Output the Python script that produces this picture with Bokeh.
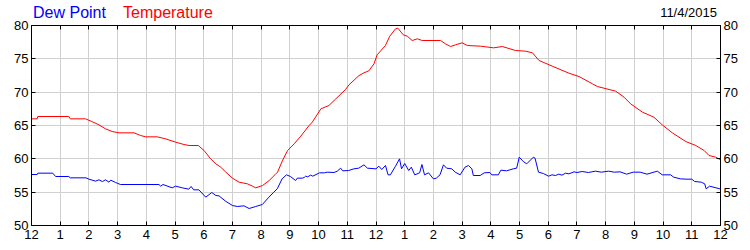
from bokeh.plotting import figure
from bokeh.models import FixedTicker, LinearAxis, Range1d, Div
from bokeh.layouts import column
from bokeh.embed import file_html
from bokeh.resources import INLINE

# ---- data (hours since midnight, degrees F) ----
temp_hours = [0.0, 0.2, 0.22, 1.3, 1.35, 1.88, 2.1, 2.35, 2.58, 2.81, 3.05, 3.57, 3.8, 3.98,
              4.38, 4.67, 5.02, 5.31, 5.49, 5.81, 6.01, 6.24, 6.42, 6.59, 6.77, 7.0, 7.23,
              7.52, 7.7, 7.81, 8.05, 8.28, 8.49, 8.57, 8.75, 8.92, 9.15, 9.38, 9.67, 9.78,
              10.08, 10.36, 10.6, 10.94, 11.06, 11.41, 11.58, 11.75, 11.93, 12.04, 12.33,
              12.48, 12.68, 12.76, 12.95, 13.09, 13.26, 13.44, 13.61, 14.25, 14.42, 14.6,
              14.77, 15.0, 15.18, 15.64, 16.1, 16.4, 16.86, 17.21, 17.45, 17.68, 18.14,
              18.72, 19.07, 19.54, 19.71, 20.35, 20.64, 20.87, 21.28, 21.68, 21.97, 22.32,
              22.79, 23.14, 23.43, 23.6, 23.83, 23.98]
temp_values = [66.0, 66.0, 66.35, 66.35, 66.0, 66.0, 65.6, 65.1, 64.5, 64.1, 63.9, 63.9, 63.5,
               63.3, 63.3, 63.0, 62.5, 62.15, 62.0, 62.0, 61.25, 60.0, 59.25, 58.75, 58.0,
               57.1, 56.5, 56.25, 55.9, 55.65, 56.0, 56.75, 57.65, 58.0, 59.8, 61.25, 62.25,
               63.4, 65.0, 65.5, 67.5, 68.0, 69.0, 70.4, 71.1, 72.5, 72.9, 73.2, 74.25, 75.6,
               77.0, 78.4, 79.5, 79.6, 78.6, 78.4, 77.75, 78.0, 77.75, 77.75, 77.25, 76.85,
               77.1, 77.4, 77.0, 76.9, 76.65, 76.85, 76.25, 76.15, 75.9, 74.75, 73.9, 72.85,
               72.35, 71.25, 70.85, 70.15, 69.25, 68.25, 67.0, 66.25, 65.1, 63.9, 62.6, 62.0,
               61.25, 60.5, 60.25, 59.9]

dew_hours = [0.0, 0.2, 0.22, 0.74, 0.84, 1.3, 1.35, 1.9, 2.0, 2.23, 2.35, 2.47, 2.58, 2.7,
             2.76, 2.93, 3.1, 4.44, 4.5, 4.58, 4.9, 5.02, 5.25, 5.48, 5.56, 5.65, 5.83, 6.07,
             6.28, 6.42, 6.53, 6.76, 7.0, 7.17, 7.4, 7.58, 7.81, 8.04, 8.27, 8.44, 8.56, 8.73,
             8.88, 9.02, 9.2, 9.26, 9.43, 9.5, 9.55, 9.62, 9.72, 9.8, 10.03, 10.2, 10.3,
             10.54, 10.65, 10.77, 10.84, 11.05, 11.23, 11.4, 11.58, 11.7, 12.0, 12.1, 12.2,
             12.33, 12.42, 12.5, 12.68, 12.82, 12.89, 13.0, 13.14, 13.23, 13.35, 13.52, 13.6,
             13.69, 13.83, 14.0, 14.1, 14.23, 14.35, 14.46, 14.64, 14.76, 14.93, 15.1, 15.22,
             15.34, 15.39, 15.63, 15.77, 15.97, 16.03, 16.26, 16.35, 16.55, 16.78, 16.9,
             16.99, 17.13, 17.25, 17.48, 17.54, 17.66, 17.83, 18.01, 18.13, 18.25, 18.37,
             18.48, 18.6, 18.72, 18.9, 19.0, 19.18, 19.4, 19.64, 19.85, 20.1, 20.3, 20.5,
             20.73, 20.96, 21.2, 21.44, 21.8, 21.97, 22.26, 22.37, 22.6, 22.8, 23.0, 23.1,
             23.33, 23.45, 23.5, 23.62, 23.98]
dew_values = [57.65, 57.65, 57.85, 57.85, 57.35, 57.35, 57.15, 57.15, 56.95, 56.65, 56.85,
              56.6, 56.85, 56.5, 56.8, 56.45, 56.15, 56.15, 55.9, 56.15, 55.65, 55.9, 55.65,
              55.45, 55.85, 55.35, 55.35, 54.25, 54.95, 54.5, 54.45, 53.65, 53.0, 52.85,
              52.95, 52.55, 52.85, 53.15, 54.25, 55.0, 55.5, 57.0, 57.6, 57.35, 56.75, 57.1,
              57.1, 57.2, 57.4, 57.3, 57.55, 57.4, 57.9, 57.9, 58.0, 57.95, 58.15, 58.6,
              58.2, 58.25, 58.5, 58.6, 59.1, 58.6, 58.5, 58.9, 58.4, 59.0, 57.6, 57.6, 58.9,
              60.0, 58.5, 59.3, 58.25, 58.75, 57.6, 57.9, 59.15, 57.6, 57.9, 57.0, 57.1,
              57.6, 59.1, 58.6, 58.5, 58.0, 57.6, 58.75, 59.0, 58.5, 57.5, 57.5, 57.9, 57.95,
              57.6, 57.6, 58.3, 58.2, 58.5, 58.6, 60.25, 59.6, 59.25, 60.25, 60.1, 58.0,
              57.8, 57.4, 57.6, 57.5, 57.7, 57.55, 57.85, 57.75, 58.05, 57.95, 58.1, 57.95,
              58.15, 58.0, 58.15, 58.0, 58.05, 57.7, 58.0, 58.0, 57.7, 58.15, 57.6, 57.6,
              57.25, 57.0, 56.95, 56.95, 56.6, 56.5, 56.25, 55.5, 55.9, 55.5]

hour_ticks = list(range(25))
hour_labels = ["12", "1", "2", "3", "4", "5", "6", "7", "8", "9", "10", "11",
               "12", "1", "2", "3", "4", "5", "6", "7", "8", "9", "10", "11", "12"]
temp_ticks = [50, 55, 60, 65, 70, 75, 80]
series_names = ["Dew Point", "Temperature"]
date_text = "11/4/2015"

FONT = "Liberation Sans"
RED = "#ff0000"
BLUE = "#0000ff"

HEADER_H = 18

# ---- header line (HTML text) ----
span = ("position:absolute;white-space:nowrap;font-family:'Liberation Sans',Arial,sans-serif;")
header_html = (
    f'<div style="position:relative;width:750px;height:{HEADER_H}px;overflow:visible;">'
    f'<span style="{span}left:33px;top:4.5px;font-size:16px;line-height:16px;color:{BLUE};">'
    f'{series_names[0]}</span>'
    f'<span style="{span}left:123px;top:4.5px;font-size:16px;line-height:16px;color:{RED};">'
    f'{series_names[1]}</span>'
    f'<span style="{span}right:33px;top:6.3px;font-size:13px;line-height:13px;color:#000000;">'
    f'{date_text}</span>'
    '</div>'
)
header = Div(text=header_html, width=750, height=HEADER_H,
             styles={"overflow": "visible", "margin": "0", "padding": "0"})

# ---- main chart ----
p = figure(width=750, height=250 - HEADER_H, output_backend="svg", toolbar_location=None,
           x_range=Range1d(0, 24), y_range=Range1d(50, 80),
           min_border_left=31, min_border_right=30, min_border_top=7, min_border_bottom=25)
p.outline_line_color = "black"
p.background_fill_color = "white"
p.border_fill_color = None

p.line(dew_hours, dew_values, color=BLUE, line_width=1)
p.line(temp_hours, temp_values, color=RED, line_width=1)

p.xgrid.ticker = FixedTicker(ticks=hour_ticks)
p.ygrid.ticker = FixedTicker(ticks=temp_ticks)
for g in (p.xgrid[0], p.ygrid[0]):
    g.grid_line_color = "#d0d0d0"
    g.grid_line_width = 1

def style_axis(ax, standoff=3):
    ax.axis_line_color = "black"
    ax.major_tick_line_color = "black"
    ax.major_tick_in = 4
    ax.major_tick_out = 0
    ax.minor_tick_line_color = None
    ax.major_label_text_font = FONT
    ax.major_label_text_font_size = "13px"
    ax.major_label_text_color = "black"
    ax.major_label_standoff = standoff

xb = p.xaxis[0]
xb.ticker = FixedTicker(ticks=hour_ticks)
xb.major_label_overrides = {t: l for t, l in zip(hour_ticks, hour_labels)}
style_axis(xb, standoff=4)

yl = p.yaxis[0]
yl.ticker = FixedTicker(ticks=temp_ticks)
style_axis(yl, standoff=3)

yr = LinearAxis(ticker=FixedTicker(ticks=temp_ticks))
style_axis(yr, standoff=3)
p.add_layout(yr, "right")

xt = LinearAxis(ticker=FixedTicker(ticks=hour_ticks))
style_axis(xt, standoff=0)
xt.major_label_overrides = {t: "" for t in hour_ticks}
p.add_layout(xt, "above")

layout = column(header, p, spacing=0)
open("out.html", "w").write(file_html(layout, INLINE))
